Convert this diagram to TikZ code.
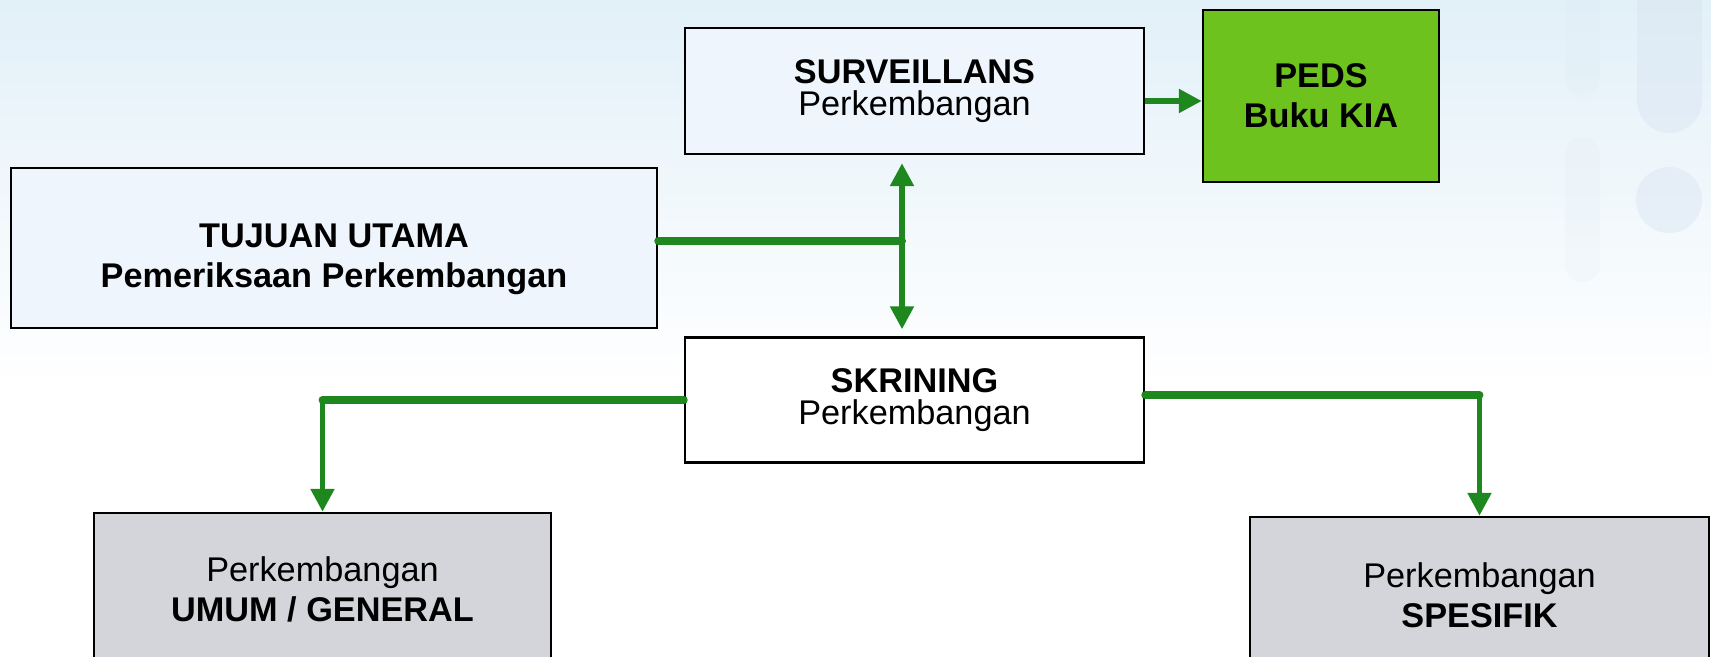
\documentclass[tikz,border=0pt]{standalone}
\usepackage{fontspec}
\setmainfont{Liberation Sans}
\usetikzlibrary{arrows.meta,positioning}

\definecolor{linegreen}{RGB}{30,135,30}
\definecolor{pedsgreen}{RGB}{109,194,30}
\definecolor{boxgray}{RGB}{212,213,218}
\definecolor{boxblue}{RGB}{239,245,252}
\definecolor{bgtop}{RGB}{226,240,248}
\definecolor{bgshape}{RGB}{214,226,240}

\begin{document}
\begin{tikzpicture}[
		box/.style = {draw=black, line width=1.4pt, inner sep=0pt, align=center,
			font=\fontsize{19.5}{18.6}\selectfont},
		widebox/.style = {box, font=\fontsize{19.5}{22.8}\selectfont},
		thickline/.style = {draw=linegreen, line width=4.5pt, line cap=round},
		arrowline/.style = {draw=linegreen, line width=3pt,
			-{Triangle[length=13pt, width=13pt]}}
	]
				% slide background
				\useasboundingbox (0, 0) rectangle (34.22, 13.14);
				\clip (0, 0) rectangle (34.22, 13.14);
				\fill[white] (0, 0) rectangle (34.22, 13.14);
				\shade[top color=bgtop, bottom color=white] (0, 5.4) rectangle (34.22, 13.14);
				\fill[bgshape, opacity=0.4, rounded corners=0.65cm] (32.74, 10.48) rectangle (34.04, 14);
				\fill[bgshape, opacity=0.4] (33.38, 9.14) circle (0.66);
				\fill[bgshape, opacity=0.12, rounded corners=0.35cm] (31.30, 11.2) rectangle (32.0, 14);
				\fill[bgshape, opacity=0.12, rounded corners=0.35cm] (31.30, 7.5) rectangle (32.0, 10.4);

				% boxes
				\node[box, fill=boxblue, minimum width=9.18cm, minimum height=2.52cm] (surv) at (18.29, 11.32)
					{\textbf{SURVEILLANS}\\Perkembangan};
				\node[widebox, fill=pedsgreen, minimum width=4.72cm, minimum height=3.44cm] (peds) at (26.42, 11.22)
					{\textbf{PEDS}\\\textbf{Buku KIA}};
				\node[widebox, fill=boxblue, minimum width=12.92cm, minimum height=3.2cm, text height=1.73cm] (tujuan) at (6.68, 8.18)
					{\textbf{TUJUAN UTAMA}\\\textbf{Pemeriksaan Perkembangan}};
				\node[box, fill=white, minimum width=9.18cm, minimum height=2.5cm] (skrining) at (18.29, 5.14)
					{\textbf{SKRINING}\\Perkembangan};
				\node[widebox, fill=boxgray, minimum width=9.14cm, minimum height=3.04cm] (umum) at (6.45, 1.36)
					{Perkembangan\\\textbf{UMUM / GENERAL}};
				\node[widebox, fill=boxgray, minimum width=9.18cm, minimum height=3.12cm] (spesifik) at (29.59, 1.24)
					{Perkembangan\\\textbf{SPESIFIK}};

				% connectors
				\coordinate (hub) at (18.04, 8.32);
				\coordinate (lbend) at (skrining.west -| umum.north);
				\coordinate (rbend) at ([yshift=1mm]skrining.east -| spesifik.north);

				\draw[arrowline] ([yshift=-2mm]surv.east) -- ([yshift=-2mm]surv.east -| peds.west);
				\draw[thickline] (tujuan.east |- hub) -- (hub);
				\draw[arrowline, shorten >=0.16cm] (hub) -- (hub |- surv.south);
				\draw[arrowline, shorten >=0.14cm] (hub) -- (hub |- skrining.north);
				\draw[thickline] (skrining.west) -- (lbend);
				\draw[arrowline] (lbend) -- (umum.north);
				\draw[thickline] ([yshift=1mm]skrining.east) -- (rbend);
				\draw[arrowline] (rbend) -- (spesifik.north);
			\end{tikzpicture}
\end{document}
